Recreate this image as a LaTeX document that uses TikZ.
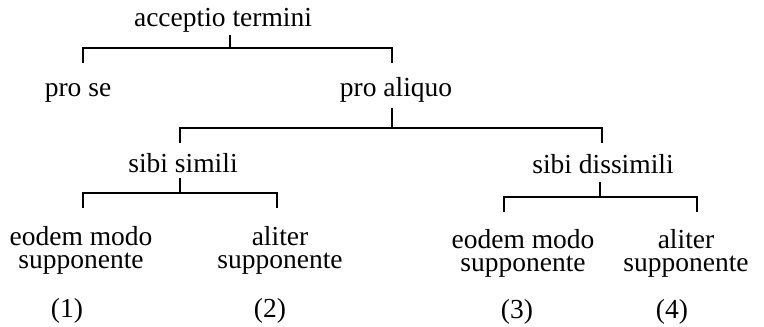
\documentclass[tikz,border=0pt]{standalone}
\usepackage{fontspec}
\setmainfont{Liberation Serif}
\begin{document}
\begin{tikzpicture}[x=0.5pt,y=-0.5pt,
  lbl/.style={inner sep=0pt,anchor=base,font=\fontsize{13.75}{11.5}\selectfont},
  two/.style={inner sep=0pt,anchor=center,align=center,font=\fontsize{13.75}{11.5}\selectfont},
  br/.style={draw=black,line width=0.8pt}]
\useasboundingbox[fill=white] (0,0) rectangle (764,326);

% labels of the tree
\node[lbl] (root) at (223,27) {acceptio termini};
\node[lbl] (prose) at (78,97) {pro se};
\node[lbl] (proal) at (396,97) {pro aliquo};
\node[lbl] (simili) at (183,172) {sibi simili};
\node[lbl] (dissim) at (603,173) {sibi dissimili};
\node[two] (eodA) at (81,250) {eodem modo\\supponente};
\node[two] (altA) at (280,250) {aliter\\supponente};
\node[two] (eodB) at (523,253) {eodem modo\\supponente};
\node[two] (altB) at (686,253) {aliter\\supponente};
\node[lbl] (n1) at (67,317) {(1)};
\node[lbl] (n2) at (270,317) {(2)};
\node[lbl] (n3) at (517,318) {(3)};
\node[lbl] (n4) at (672,318) {(4)};

% junction points of the brackets
\coordinate (s0) at (230,35);  \coordinate (j0) at (230,48);
\coordinate (l0) at (83,63);   \coordinate (r0) at (392,63);
\coordinate (s1) at (392,108); \coordinate (j1) at (392,128);
\coordinate (l1) at (180,143); \coordinate (r1) at (602,143);
\coordinate (s2) at (180,178); \coordinate (j2) at (180,193);
\coordinate (l2) at (83,208);  \coordinate (r2) at (277,208);
\coordinate (s3) at (600,182); \coordinate (j3) at (600,197);
\coordinate (l3) at (504,212); \coordinate (r3) at (697,212);

% brackets
\draw[br] (s0) -- (j0);
\draw[br] (l0) |- (j0) -| (r0);
\draw[br] (s1) -- (j1);
\draw[br] (l1) |- (j1) -| (r1);
\draw[br] (s2) -- (j2);
\draw[br] (l2) |- (j2) -| (r2);
\draw[br] (s3) -- (j3);
\draw[br] (l3) |- (j3) -| (r3);
\end{tikzpicture}
\end{document}
